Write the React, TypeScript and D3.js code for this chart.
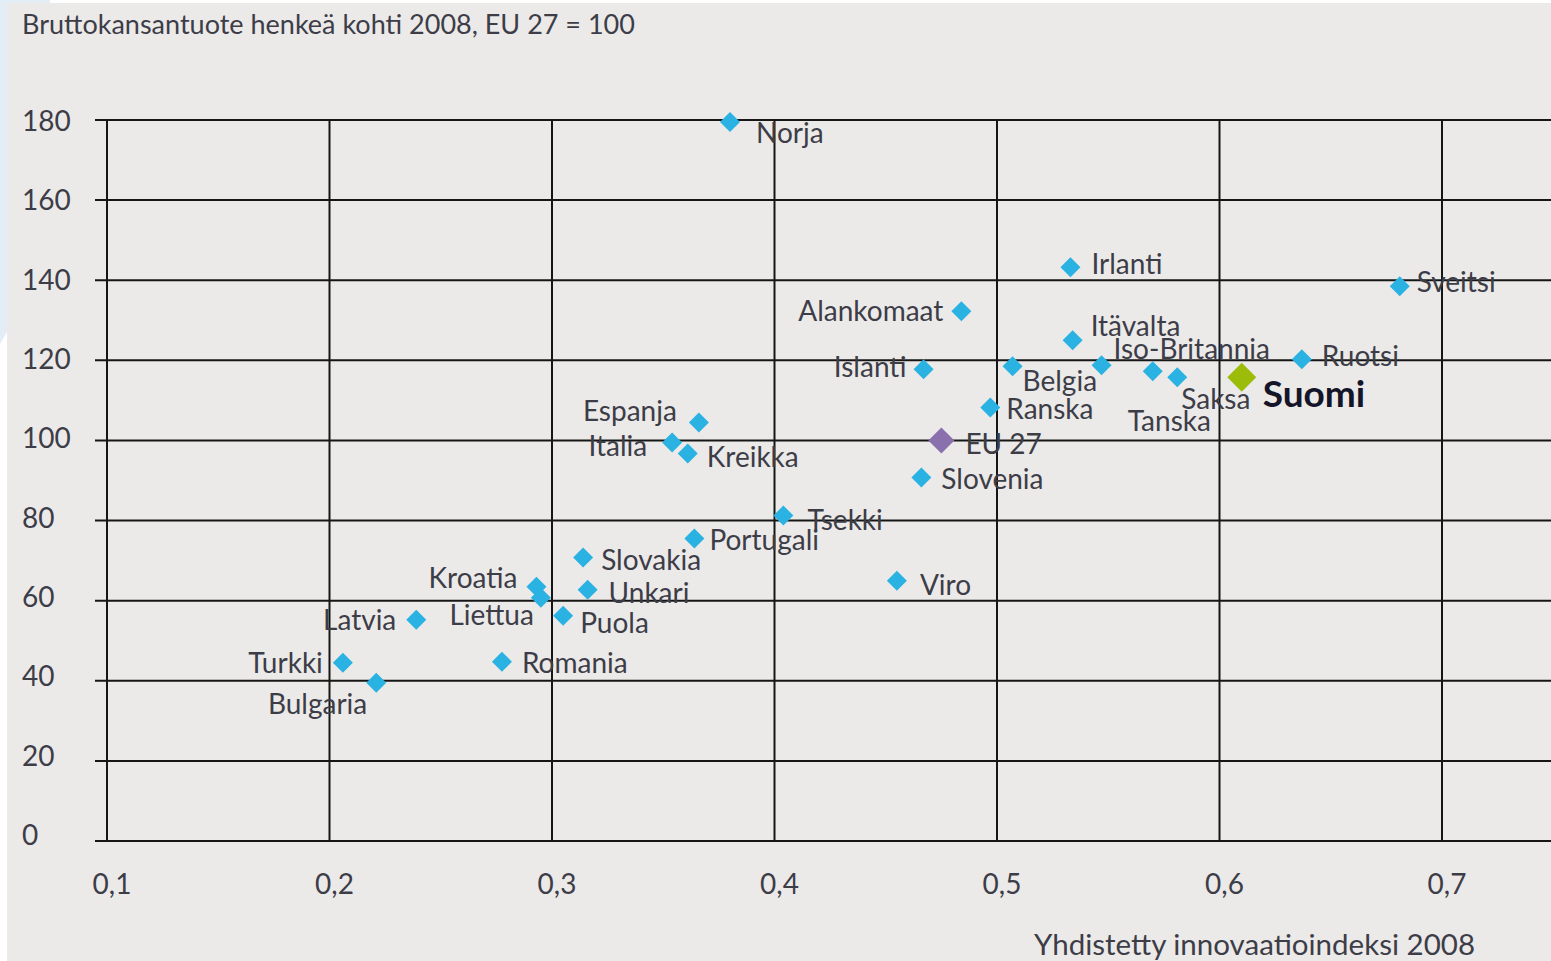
import React from 'react';
import * as d3 from 'd3';

// Yhdistetty innovaatioindeksi 2008 (x) ja BKT/asukas 2008, EU 27 = 100 (y)
const countries = [
  'Norja', 'Irlanti', 'Sveitsi', 'Alankomaat', 'Itävalta', 'Iso-Britannia', 'Belgia',
  'Islanti', 'Ruotsi', 'Tanska', 'Saksa', 'Suomi', 'Ranska', 'EU 27', 'Slovenia',
  'Espanja', 'Italia', 'Kreikka', 'Tsekki', 'Portugali', 'Viro', 'Slovakia', 'Kroatia',
  'Unkari', 'Liettua', 'Puola', 'Latvia', 'Romania', 'Turkki', 'Bulgaria',
];
const innovation = [
  0.380, 0.533, 0.681, 0.484, 0.534, 0.547, 0.507,
  0.467, 0.637, 0.570, 0.581, 0.610, 0.497, 0.475, 0.466,
  0.366, 0.354, 0.361, 0.404, 0.364, 0.455, 0.314, 0.293,
  0.316, 0.295, 0.305, 0.239, 0.2775, 0.206, 0.221,
];
const gdp = [
  179.5, 143.25, 138.5, 132.25, 125, 118.75, 118.5,
  117.75, 120.25, 117.25, 115.75, 115.75, 108.25, 100, 90.75,
  104.5, 99.5, 96.75, 81.25, 75.5, 65, 70.75, 63.5,
  62.75, 60.75, 56.25, 55.25, 44.75, 44.5, 39.5,
];
const yTicks = [0, 20, 40, 60, 80, 100, 120, 140, 160, 180];
const xTicks = [0.1, 0.2, 0.3, 0.4, 0.5, 0.6, 0.7];

// label placement: [dx, dy to baseline, anchor]
const labelPos: Record<string, [number, number, string]> = {
  'Norja': [26, 21, 'start'],
  'Irlanti': [21, 7, 'start'],
  'Sveitsi': [17, 6, 'start'],
  'Alankomaat': [-18, 10, 'end'],
  'Itävalta': [18, -4, 'start'],
  'Iso-Britannia': [12, -6, 'start'],
  'Belgia': [10, 25, 'start'],
  'Islanti': [-17, 8, 'end'],
  'Ruotsi': [20, 7, 'start'],
  'Tanska': [-25, 60, 'start'],
  'Saksa': [4, 32, 'start'],
  'Suomi': [21, 30, 'start'],
  'Ranska': [16, 12, 'start'],
  'EU 27': [24, 14, 'start'],
  'Slovenia': [20, 12, 'start'],
  'Espanja': [-22, -1, 'end'],
  'Italia': [-25, 14, 'end'],
  'Kreikka': [19, 14, 'start'],
  'Tsekki': [24, 14, 'start'],
  'Portugali': [15, 11, 'start'],
  'Viro': [23, 14, 'start'],
  'Slovakia': [18, 12, 'start'],
  'Kroatia': [-19, 1, 'end'],
  'Unkari': [21, 13, 'start'],
  'Liettua': [-7, 27, 'end'],
  'Puola': [17, 17, 'start'],
  'Latvia': [-20, 10, 'end'],
  'Romania': [20, 11, 'start'],
  'Turkki': [-20, 10, 'end'],
  'Bulgaria': [-9, 31, 'end'],
};

const W = 1551;
const H = 961;
const FONT = 'Lato, "Open Sans", sans-serif';
const TEXT = '#3d3d48';
const CYAN = '#2ab2e2';

const fiFormat = d3.formatLocale({ decimal: ',', thousands: ' ', grouping: [3], currency: ['', ' €'] }).format('.1f');

export default function App() {
  const x = d3.scaleLinear().domain([0.1, 0.7]).range([107, 1442]);
  const y = d3.scaleLinear().domain([0, 180]).range([841, 120]);

  const diamond = (r: number) => `M0,${-r}L${r},0L0,${r}L${-r},0Z`;

  return (
    <svg width={W} height={H} style={{ position: 'absolute', left: 0, top: 0 }} fontFamily={FONT}>
      <rect width={W} height={H} fill="#ffffff" />
      <path d="M0,0L50,0L50,3L7,3L7,332L0,344Z" fill="#e2edf6" />
      <rect x={7} y={3} width={W - 7} height={H - 3} fill="#ebeae8" />

      <text x={22} y={34} fontSize={27} fill={TEXT}>Bruttokansantuote henkeä kohti 2008, EU 27 = 100</text>

      {/* grid */}
      <g stroke="#161616" strokeWidth={2}>
        {yTicks.map(t => (
          <line key={'h' + t} x1={95} x2={W} y1={y(t)} y2={y(t)} />
        ))}
        {xTicks.map(t => (
          <line key={'v' + t} x1={x(t)} x2={x(t)} y1={y(180)} y2={y(0)} />
        ))}
      </g>

      {yTicks.map(t => (
        <text key={'yl' + t} x={22} y={y(t) + 4 + t * 0.039} fontSize={28} fill={TEXT}>{t}</text>
      ))}
      {xTicks.map(t => (
        <text key={'xl' + t} x={x(t) + 5} y={894} fontSize={28} fill={TEXT} textAnchor="middle">{fiFormat(t)}</text>
      ))}
      <text x={1475} y={955} fontSize={29.5} fill={TEXT} textAnchor="end">Yhdistetty innovaatioindeksi 2008</text>

      {/* points */}
      {countries.map((c, i) => {
        const isFi = c === 'Suomi';
        const isEu = c === 'EU 27';
        const r = isFi ? 14.5 : isEu ? 13 : 10;
        const fill = isFi ? '#9cbc0a' : isEu ? '#8a71ad' : CYAN;
        return (
          <path key={'p' + c} d={diamond(r)} transform={`translate(${x(innovation[i])},${y(gdp[i])})`} fill={fill} />
        );
      })}

      {countries.map((c, i) => {
        const [dx, dy, anchor] = labelPos[c];
        const isFi = c === 'Suomi';
        return (
          <text
            key={'t' + c}
            x={x(innovation[i]) + dx}
            y={y(gdp[i]) + dy}
            textAnchor={anchor as any}
            fontSize={isFi ? 37 : 28}
            fontWeight={isFi ? 700 : 400}
            fill={isFi ? '#15152a' : TEXT}
          >
            {c}
          </text>
        );
      })}
    </svg>
  );
}
